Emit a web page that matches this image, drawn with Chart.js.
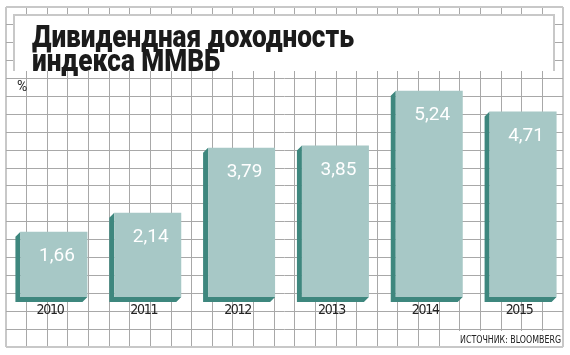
<!DOCTYPE html>
<html>
<head>
<meta charset="utf-8">
<script src="https://cdn.jsdelivr.net/npm/chart.js@4.4.1/dist/chart.umd.min.js"></script>
<style>
  html, body { margin: 0; padding: 0; background: #fff; }
  #wrap { width: 570px; height: 355px; position: relative; background: #fff; }
  .layer { position: absolute; left: 0; top: 0; width: 570px; height: 355px; }
</style>
</head>
<body>
<div id="wrap">
  <div class="layer"><canvas id="paperChart"></canvas></div>
  <div class="layer"><canvas id="divChart"></canvas></div>
</div>
<script>
// данные
const years = ["2010", "2011", "2012", "2013", "2014", "2015"];
const yields = [1.66, 2.14, 3.79, 3.85, 5.24, 4.71];
const titleLines = ["Дивидендная доходность", "индекса ММВБ"];
const unitLabel = "%";
const sourceLabel = "ИСТОЧНИК: BLOOMBERG";

const faceColor = "#a7c8c6";
const sideColor = "#3e877e";

// клетки бумаги: 27 x 19
const paperCols = 27;
const paperRows = 19;

function paperLine(n) {
    return {
        display: true,
        drawTicks: false,
        color: c => (c.index === 0 || c.index === n) ? "#c8c8c8" : "#a8a8a8",
        lineWidth: c => (c.index === 0 || c.index === n) ? 2 : 1
    };
}

// задний холст - клетчатая бумага из сетки осей
new Chart(document.getElementById("paperChart"), {
    type: "scatter",
    data: { datasets: [] },
    options: {
        responsive: true,
        maintainAspectRatio: false,
        animation: false,
        layout: { padding: { left: 6, top: 7, right: 7, bottom: 8 } },
        plugins: { legend: { display: false }, tooltip: { enabled: false } },
        scales: {
            x: {
                type: "linear", min: 0, max: paperCols,
                ticks: { display: false, stepSize: 1, autoSkip: false, maxTicksLimit: 100 },
                grid: paperLine(paperCols),
                border: { display: false }
            },
            y: {
                type: "linear", min: 0, max: paperRows,
                ticks: { display: false, stepSize: 1, autoSkip: false, maxTicksLimit: 100 },
                grid: paperLine(paperRows),
                border: { display: false }
            }
        }
    }
});

// плашки заголовка и источника
const paperBoxes = {
    id: "paperBoxes",
    beforeDraw(chart) {
        const ctx = chart.ctx;
        ctx.save();
        ctx.fillStyle = "#fff";
        ctx.fillRect(14, 15, 540, 56);
        ctx.fillRect(458, 331, 104, 15);
        ctx.strokeStyle = "#c8c8c8";
        ctx.lineWidth = 2;
        ctx.beginPath();
        ctx.moveTo(14, 71);
        ctx.lineTo(14, 15);
        ctx.lineTo(554, 15);
        ctx.lineTo(554, 71);
        ctx.stroke();
        ctx.restore();
        // узкие цифры подписей оси
        ctx.letterSpacing = "-1.3px";
    }
};

// объемная "тень" у столбцов
const barSides = {
    id: "barSides",
    beforeDatasetsDraw(chart) {
        const ctx = chart.ctx;
        const d = 5;
        ctx.letterSpacing = "0px";
        ctx.save();
        ctx.fillStyle = sideColor;
        chart.getDatasetMeta(0).data.forEach(bar => {
            const l = bar.x - bar.width / 2, r = bar.x + bar.width / 2;
            const t = bar.y, b = bar.base;
            ctx.beginPath();
            ctx.moveTo(l, t);
            ctx.lineTo(l - d, t + d);
            ctx.lineTo(l - d, b + d);
            ctx.lineTo(r - d, b + d);
            ctx.lineTo(r, b);
            ctx.lineTo(l, b);
            ctx.closePath();
            ctx.fill();
        });
        ctx.restore();
    }
};

// подписи значений, заголовок, % и источник
const textLayer = {
    id: "textLayer",
    afterDatasetsDraw(chart) {
        const ctx = chart.ctx;
        const ds = chart.data.datasets[0];
        ctx.save();
        ctx.fillStyle = "#fff";
        ctx.font = "19px Roboto";
        ctx.textAlign = "center";
        ctx.textBaseline = "middle";
        chart.getDatasetMeta(0).data.forEach((bar, i) => {
            ctx.fillText(ds.data[i].toFixed(2).replace(".", ","), bar.x + 3, bar.y + 25);
        });

        ctx.fillStyle = "#1b1b1b";
        ctx.textAlign = "left";
        ctx.textBaseline = "alphabetic";
        ctx.font = "900 31px Roboto";
        const sx = 322 / ctx.measureText(titleLines[0]).width;
        [[47, titleLines[0]], [71, titleLines[1]]].forEach(([y, s]) => {
            ctx.save();
            ctx.translate(32, y);
            ctx.scale(sx, 1);
            ctx.fillText(s, 0, 0);
            ctx.restore();
        });

        ctx.fillStyle = "#222";
        ctx.font = "14px Roboto";
        ctx.fillText(unitLabel, 17, 91);

        ctx.font = "11px 'DejaVu Sans Condensed', sans-serif";
        ctx.textBaseline = "middle";
        const ss = 101 / ctx.measureText(sourceLabel).width;
        ctx.translate(460, 340);
        ctx.scale(ss, 1);
        ctx.fillText(sourceLabel, 0, 0);
        ctx.restore();
    }
};

// передний холст - столбцы
new Chart(document.getElementById("divChart"), {
    type: "bar",
    data: {
        labels: years,
        datasets: [{
            data: yields,
            backgroundColor: faceColor,
            borderWidth: 0,
            barPercentage: 0.714,
            categoryPercentage: 1
        }]
    },
    options: {
        responsive: true,
        maintainAspectRatio: false,
        animation: false,
        layout: {
            padding: { top: 80.4, left: 7, right: 0, bottom: 31.2 }
        },
        plugins: {
            legend: { display: false },
            tooltip: { enabled: false }
        },
        scales: {
            x: {
                grid: { display: false, drawTicks: false },
                border: { display: false },
                ticks: {
                    color: "#222",
                    padding: 5,
                    labelOffset: -4,
                    font: { size: 14, family: "'DejaVu Sans Condensed', sans-serif" }
                }
            },
            y: {
                display: false,
                min: 0,
                max: 5.5
            }
        }
    },
    plugins: [paperBoxes, barSides, textLayer]
});
</script>
</body>
</html>
